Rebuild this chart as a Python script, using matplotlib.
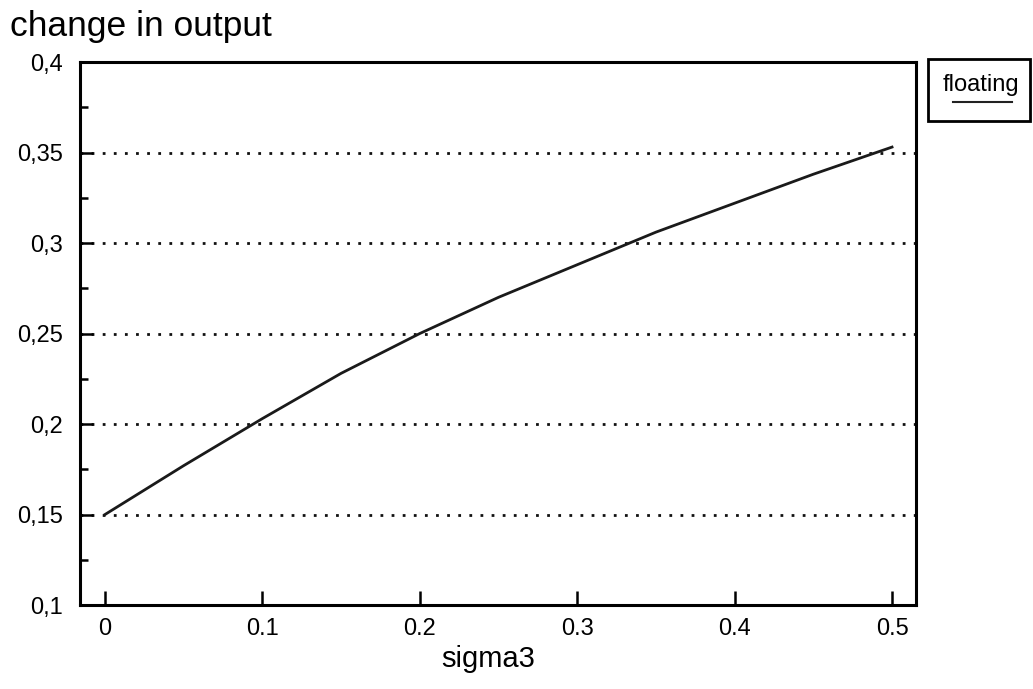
import numpy as np
import matplotlib.pyplot as plt
from matplotlib.ticker import MultipleLocator, FuncFormatter
from matplotlib.patches import Rectangle
from matplotlib.lines import Line2D

plt.rcParams['font.family'] = ['Liberation Sans', 'DejaVu Sans']

# data
sigma3 = [0.0, 0.05, 0.1, 0.15, 0.2, 0.25, 0.3, 0.35, 0.4, 0.45, 0.5]
change = [0.150, 0.177, 0.203, 0.228, 0.250, 0.270, 0.288, 0.306, 0.322, 0.338, 0.353]
grid_levels = [0.15, 0.2, 0.25, 0.3, 0.35]
series_name = "floating"

fig = plt.figure(figsize=(10.33, 6.89), dpi=100)
ax = fig.add_axes([0.0774, 0.1219, 0.8093, 0.7881])

ax.plot(sigma3, change, color='#1a1a1a', linewidth=2.0)

# dotted horizontal grid
for g in grid_levels:
    ax.axhline(g, color='#111111', linestyle=(0, (1, 3)), linewidth=2.0, zorder=0)

ax.set_xlim(-0.0159, 0.5152)
ax.set_ylim(0.1, 0.4)

ax.xaxis.set_major_locator(MultipleLocator(0.1))
ax.yaxis.set_major_locator(MultipleLocator(0.05))
ax.yaxis.set_minor_locator(MultipleLocator(0.025))
ax.xaxis.set_major_formatter(FuncFormatter(lambda v, p: "0" if abs(v) < 1e-9 else f"{v:.1f}"))
ax.yaxis.set_major_formatter(FuncFormatter(lambda v, p: f"{v:g}".replace('.', ',')))

ax.tick_params(axis='x', direction='in', length=10, width=1.8, labelsize=17, pad=9,
               top=False)
ax.tick_params(axis='y', which='major', direction='in', length=9, width=1.8,
               labelsize=17, pad=12, right=False)
ax.tick_params(axis='y', which='minor', direction='in', length=6, width=1.8, right=False)

for s in ax.spines.values():
    s.set_linewidth(2.2)

fig.text(0.0097, 0.962, "change in output", fontsize=25.5, ha='left', va='center')
fig.text(0.4724, 0.043, "sigma3", fontsize=21, ha='center', va='center')

# legend box
fig.patches.append(Rectangle((928 / 1033, 1 - 121 / 689), 102 / 1033, 62 / 689,
                             transform=fig.transFigure, fill=False,
                             edgecolor='black', linewidth=2.0))
fig.text(981 / 1033, 1 - 85 / 689, series_name, fontsize=17, ha='center', va='center')
fig.lines.append(Line2D([953 / 1033, 1012 / 1033], [1 - 102 / 689, 1 - 102 / 689],
                        transform=fig.transFigure, color='#222222', linewidth=1.5))

fig.savefig("out.png", dpi=100)
